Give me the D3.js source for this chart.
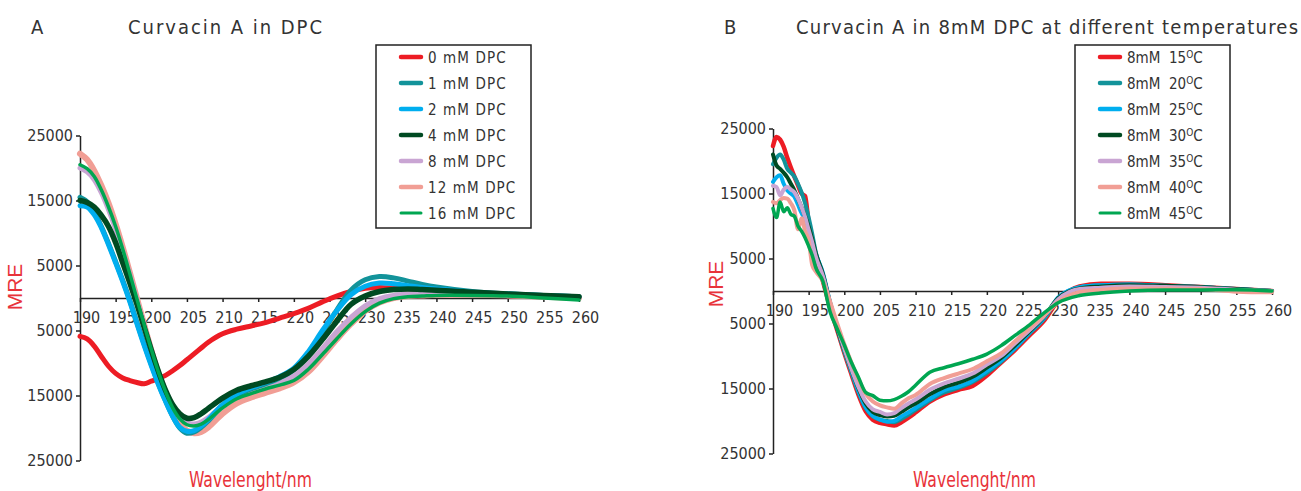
<!DOCTYPE html>
<html>
<head>
<meta charset="utf-8">
<script src="https://cdn.jsdelivr.net/npm/d3@7"></script>
<style>
    body { margin: 0; background: #fff; }
    svg text { font-family: "Liberation Sans Narrow", "Arial Narrow", "DejaVu Sans Condensed", sans-serif; fill: #333; }
    .axis path, .axis line { stroke: #222; stroke-width: 1.5; }
    .mre { font-family: "Liberation Sans", Arial, sans-serif !important; }
</style>
</head>
<body>
<svg id="chart" width="1301" height="491"></svg>
<script>

// ---- shared ticks / colours ----
const xTicks = [190, 195, 200, 205, 210, 215, 220, 225, 230, 235, 240, 245, 250, 255, 260];
const yTicks = [25000, 15000, 5000, -5000, -15000, -25000];
const seriesColors = ["#ed1c24", "#12939a", "#00aeef", "#004a22", "#c9a5d3", "#f19e95", "#00a651"];

// ---- panel A : Curvacin A in DPC ----
const wavelengthsA = [190,191,192,193,194,195,196,197,198,199,200,201,202,203,204,205,206,207,208,
    210,212,214,216,218,220,222,224,226,228,230,232,234,236,238,240,245,250,255,260];

const dpc0 = [-5900,-6300,-7400,-9000,-10500,-11600,-12300,-12700,-13000,-13200,-12800,-12400,-11900,-11200,-10400,-9500,-8600,-7700,-6800,
    -5500,-4800,-4300,-3800,-3100,-2400,-1600,-600,300,1000,1500,1600,1500,1400,1200,1000,700,400,200,0];
const dpc1 = [15500,14800,13200,11000,8400,5600,2700,-400,-3800,-7100,-10200,-13200,-15800,-18200,-20000,-20800,-20600,-19900,-18900,
    -16600,-15000,-14000,-13200,-12300,-11000,-8600,-5400,-1900,1200,2800,3300,3100,2600,2100,1700,1000,650,400,200];
const dpc2 = [14200,14000,12800,10800,8200,5400,2500,-600,-4000,-7300,-10400,-13300,-15900,-18200,-19900,-20500,-20400,-19700,-18700,
    -16400,-14800,-13800,-13000,-12100,-10800,-8300,-5000,-2000,500,1800,2300,2200,1900,1600,1400,900,600,400,200];
const dpc4 = [15000,14700,14000,12700,11000,8500,5400,2300,-1000,-4500,-8000,-11300,-14200,-16400,-17800,-18500,-18400,-17800,-17000,
    -15400,-14200,-13500,-12900,-12200,-11000,-9000,-6400,-3600,-1000,300,1000,1300,1400,1300,1200,900,600,400,200];
const dpc8 = [20000,19400,18200,16200,13600,10600,7200,3500,-400,-4300,-8000,-11400,-14300,-16700,-18400,-19200,-19400,-19100,-18400,
    -16500,-15100,-14300,-13600,-12900,-12000,-10200,-7800,-5200,-3000,-1200,-100,400,600,700,700,700,500,300,0];
const dpc12 = [22200,21300,19600,17300,14600,11400,7800,3900,-100,-4100,-8000,-11600,-14800,-17400,-19300,-20400,-20800,-20600,-19900,
    -17800,-16200,-15300,-14600,-13900,-13000,-11400,-9000,-6400,-4000,-2000,-700,0,300,400,500,500,400,200,0];
const dpc16 = [20500,19900,18700,16600,14000,11000,7500,3700,-200,-4100,-7900,-11400,-14400,-16900,-18600,-19500,-19700,-19400,-18700,
    -16900,-15500,-14700,-14000,-13400,-12700,-11000,-8700,-6300,-4000,-2100,-800,-100,200,300,400,400,300,0,-300];
const labelsA = ["0 mM DPC", "1 mM DPC", "2 mM DPC", "4 mM DPC", "8 mM DPC", "12 mM DPC", "16 mM DPC"];

// ---- panel B : 8mM DPC at different temperatures ----
const wavelengthsB = [190,190.5,191,191.5,192,192.5,193,193.5,194,194.5,195,195.5,196,
    197,198,199,200,201,202,203,204,205,206,207,208,209,210,
    212,214,216,218,220,222,224,226,228,230,233,236,240,245,250,255,260];

const t15 = [22300,23700,23300,22200,20500,19000,17600,16300,15000,14600,10500,8000,5200,
    1500,-2500,-6000,-9500,-12800,-16000,-18500,-19800,-20300,-20500,-20700,-20200,-19500,-18700,
    -17000,-15900,-15200,-14600,-13000,-11000,-9000,-6800,-4600,-1500,700,1100,1100,900,600,300,0];
const t20 = [19500,20500,21000,20200,18800,18200,17600,16500,15200,13500,11300,8800,6000,
    2500,-2000,-5800,-9300,-12500,-15600,-18000,-19300,-19800,-20000,-20200,-19700,-19000,-18300,
    -16800,-15600,-14900,-14000,-12600,-10900,-8800,-6500,-4300,-1200,600,900,1000,800,600,300,0];
const t25 = [16800,17500,17800,16500,15500,15000,14500,13300,12000,11000,9600,7800,5800,
    2800,-1700,-5600,-9100,-12300,-15400,-17900,-19200,-19800,-20100,-20000,-19300,-18700,-18000,
    -16600,-15300,-14700,-13800,-12300,-10700,-8700,-6400,-4200,-1000,600,900,1000,800,600,300,0];
const t30 = [21000,19300,18800,18200,17500,16500,15500,14200,12900,11500,9900,8000,5800,
    2600,-1800,-5700,-9000,-12100,-15000,-17300,-18600,-19100,-19300,-19200,-18600,-17900,-17300,
    -15900,-14800,-14100,-13200,-11800,-10300,-8300,-6200,-4000,-1100,400,700,900,800,600,300,0];
const t35 = [16200,16000,14700,15600,16000,15600,15200,14200,12900,11400,9400,7500,5300,
    2300,-1800,-5500,-8900,-12000,-14800,-17000,-18200,-18600,-19000,-18800,-18000,-17300,-16700,
    -15200,-14200,-13500,-12700,-11300,-10000,-8000,-6000,-3900,-1300,300,500,700,600,500,200,0];
const t40 = [13700,13500,14000,14300,14200,13500,12400,9500,11200,9200,7800,4000,3000,
    1500,-1600,-5000,-8200,-11000,-13600,-15800,-17000,-17600,-17900,-18100,-17300,-16500,-16000,
    -14300,-13400,-12700,-12000,-10800,-9600,-7700,-5700,-3800,-1700,-200,200,400,400,300,-100,-200];
const t45 = [12700,11300,13700,12200,12800,11800,11500,10000,9200,8200,6900,5500,3600,
    1500,-3200,-5800,-8300,-11000,-13300,-15600,-16100,-16800,-16900,-16700,-16200,-15500,-14500,
    -12500,-11800,-11200,-10500,-9700,-8400,-6800,-5200,-3400,-1800,-700,-300,0,150,150,200,0];
const tempsB = ["15", "20", "25", "30", "35", "40", "45"];


class CDVis {

    constructor(svg, cfg) {
        this.svg = svg;
        this.cfg = cfg;
        this.initVis();
    }

    initVis() {
        let vis = this;
        let c = vis.cfg;

        vis.g = vis.svg.append('g');

        vis.x = d3.scaleLinear().domain([190, 260]).range([c.left, c.left + 499]);
        vis.y = d3.scaleLinear().domain([-25000, 25000]).range([c.top + 325, c.top]);

        // panel letter + title
        vis.g.append('text')
            .attr('x', c.letterX).attr('y', 34)
            .style('font-size', '20px')
            .text(c.letter);

        vis.g.append('text')
            .attr('x', c.titleX).attr('y', 34)
            .attr('textLength', c.titleW).attr('lengthAdjust', 'spacing')
            .style('font-size', '20px')
            .text(c.title);

        // y axis
        vis.g.append('g')
            .attr('class', 'axis y-axis')
            .attr('transform', `translate(${c.left},0)`)
            .call(d3.axisLeft(vis.y).tickValues(yTicks).tickSize(4).tickSizeOuter(0).tickPadding(3)
                .tickFormat(d => Math.abs(d)))
            .call(g => g.selectAll('text').style('font-size', '16px').attr('fill', '#333'));

        // x axis sits on the zero line
        vis.g.append('g')
            .attr('class', 'axis x-axis')
            .attr('transform', `translate(0,${vis.y(0)})`)
            .call(d3.axisBottom(vis.x).tickValues(xTicks).tickSize(4).tickSizeOuter(0))
            .call(g => g.selectAll('text')
                .style('font-size', '16px').attr('fill', '#333')
                .attr('x', 6).attr('y', 25).attr('dy', 0));

        // axis titles
        vis.g.append('text')
            .attr('class', 'mre')
            .attr('transform', `translate(${c.mreX},${c.mreY}) rotate(-90)`)
            .attr('text-anchor', 'middle')
            .style('font-size', '21px')
            .style('fill', '#e8333a')
            .text('MRE');

        vis.g.append('text')
            .attr('x', c.wlX).attr('y', 487)
            .attr('textLength', 123).attr('lengthAdjust', 'spacingAndGlyphs')
            .style('font-size', '21px')
            .style('fill', '#e8333a')
            .text('Wavelenght/nm');

        vis.line = d3.line()
            .x(d => vis.x(d[0]))
            .y(d => vis.y(d[1]))
            .curve(c.curve);

        vis.updateVis();
    }

    updateVis() {
        let vis = this;
        let c = vis.cfg;

        let series = c.values.map((vals, i) => ({
            i: i,
            pts: c.wavelengths.map((w, j) => [w, vals[j]])
        }));
        let ordered = c.order.map(k => series[k]);

        vis.g.append('g').selectAll('path')
            .data(ordered)
            .join('path')
            .attr('d', d => vis.line(d.pts))
            .attr('fill', 'none')
            .attr('stroke', d => seriesColors[d.i])
            .attr('stroke-width', d => c.widths[d.i])
            .attr('stroke-linejoin', 'round')
            .attr('stroke-linecap', 'round');

        // legend
        let lg = vis.g.append('g').attr('transform', `translate(${c.legendX},45)`);
        lg.append('rect')
            .attr('width', 155).attr('height', 183)
            .attr('fill', '#fff').attr('stroke', '#222').attr('stroke-width', 1.5);

        let items = lg.selectAll('.item')
            .data(c.labels)
            .join('g')
            .attr('class', 'item')
            .attr('transform', (d, i) => `translate(0,${12 + i * 26})`);

        items.append('line')
            .attr('x1', 25).attr('x2', 45)
            .attr('stroke', (d, i) => seriesColors[i])
            .attr('stroke-width', (d, i) => i === 6 ? 3 : 4.5)
            .attr('stroke-linecap', 'round');

        c.drawLabel(items);
    }
}

let svg = d3.select('#chart');

new CDVis(svg, {
    letter: 'A', letterX: 31, title: 'Curvacin A in DPC', titleX: 128, titleW: 194,
    left: 80, top: 135.5, mreX: 22, mreY: 287, wlX: 189, legendX: 376,
    curve: d3.curveCatmullRom,
    wavelengths: wavelengthsA,
    values: [dpc0, dpc1, dpc2, dpc4, dpc8, dpc12, dpc16],
    order: [0, 5, 4, 1, 2, 3, 6],
    widths: [5, 5, 5, 5.5, 5, 6, 3.5],
    labels: labelsA,
    drawLabel: items => items.append('text')
        .attr('x', 52).attr('y', 5.5)
        .style('font-size', '15px')
        .style('letter-spacing', '1.1px')
        .text(d => d)
});

new CDVis(svg, {
    letter: 'B', letterX: 724, title: 'Curvacin A in 8mM DPC at different temperatures', titleX: 796, titleW: 502,
    left: 773, top: 128.5, mreX: 723, mreY: 284, wlX: 913, legendX: 1075,
    curve: d3.curveMonotoneX,
    wavelengths: wavelengthsB,
    values: [t15, t20, t25, t30, t35, t40, t45],
    order: [0, 1, 2, 3, 4, 5, 6],
    widths: [4.5, 4, 4, 4, 4, 4, 3.5],
    labels: tempsB,
    drawLabel: items => {
        let t = items.append('text')
            .attr('x', 52).attr('y', 5.5)
            .style('font-size', '15px')
            .style('white-space', 'pre');
        t.append('tspan').text(d => '8mM  ' + d);
        t.append('tspan').attr('dy', -5).style('font-size', '10px').text('O');
        t.append('tspan').attr('dy', 5).text('C');
    }
});

</script>
</body>
</html>
